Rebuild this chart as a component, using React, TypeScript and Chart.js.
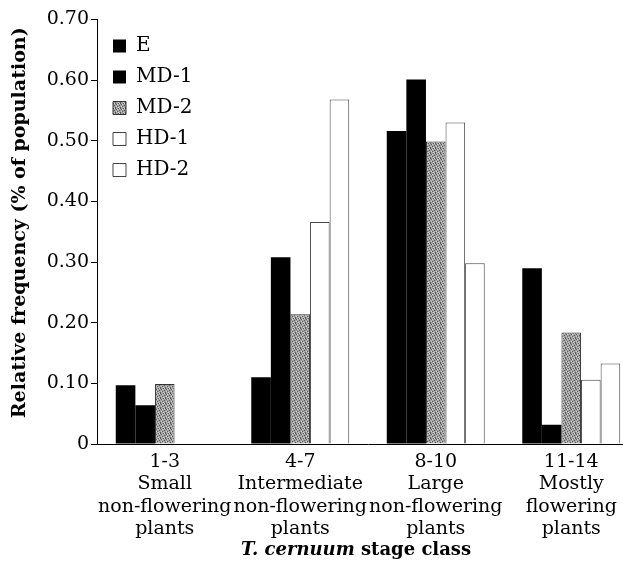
import React, { useEffect, useRef } from 'react';
import { Chart, registerables } from 'chart.js';

Chart.register(...registerables);

const categories: string[][] = [
  ['1-3', 'Small', 'non-flowering', 'plants'],
  ['4-7', 'Intermediate', 'non-flowering', 'plants'],
  ['8-10', 'Large', 'non-flowering', 'plants'],
  ['11-14', 'Mostly', 'flowering', 'plants'],
];
const seriesNames = ['E', 'MD-1', 'MD-2', 'HD-1', 'HD-2'];
const valuesE = [0.097, 0.11, 0.516, 0.29];
const valuesMD1 = [0.064, 0.308, 0.601, 0.032];
const valuesMD2 = [0.099, 0.214, 0.499, 0.184];
const valuesHD1 = [null, 0.366, 0.53, 0.106];
const valuesHD2 = [null, 0.568, 0.298, 0.133];
const yTickLabels = ['0', '0.10', '0.20', '0.30', '0.40', '0.50', '0.60', '0.70'];
const xTitleItalic = 'T. cernuum';
const xTitleRest = ' stage class';
const yTitle = 'Relative frequency (% of population)';

const FONT = "'DejaVu Serif', 'Liberation Serif', serif";

function makeStipple(): CanvasPattern | string {
  const pc = document.createElement('canvas');
  pc.width = 5;
  pc.height = 5;
  const g = pc.getContext('2d');
  if (!g) return '#909090';
  g.fillStyle = '#a2a2a2';
  g.fillRect(0, 0, 5, 5);
  g.fillStyle = '#5c5c5c';
  [[0, 0], [3, 1], [1, 2], [4, 3], [2, 4], [2, 0]].forEach(([x, y]) => g.fillRect(x, y, 1, 1));
  g.fillStyle = '#cfcfcf';
  [[1, 0], [4, 1], [3, 3], [0, 4]].forEach(([x, y]) => g.fillRect(x, y, 1, 1));
  return g.createPattern(pc, 'repeat') || '#909090';
}

const customPlugin = {
  id: 'customPlugin',
  afterLayout(chart: any) {
    const lg = chart.legend;
    if (lg) {
      const h = lg.bottom - lg.top;
      lg.left = chart.chartArea.left + 5;
      lg.top = 17;
      lg.bottom = lg.top + h;
    }
  },
  afterDraw(chart: any) {
    const ctx = chart.ctx;
    ctx.save();
    ctx.fillStyle = '#000';
    ctx.textBaseline = 'middle';
    ctx.textAlign = 'left';
    const italicFont = `italic bold 18px ${FONT}`;
    const boldFont = `bold 18px ${FONT}`;
    ctx.font = italicFont;
    const w1 = ctx.measureText(xTitleItalic).width;
    ctx.font = boldFont;
    const w2 = ctx.measureText(xTitleRest).width;
    const cx = (chart.chartArea.left + 607) / 2;
    const y = chart.height - 15;
    const x0 = cx - (w1 + w2) / 2;
    ctx.font = italicFont;
    ctx.fillText(xTitleItalic, x0, y);
    ctx.font = boldFont;
    ctx.fillText(xTitleRest, x0 + w1, y);
    ctx.restore();

    ctx.save();
    ctx.fillStyle = '#000';
    ctx.font = `bold 19px ${FONT}`;
    ctx.textAlign = 'center';
    ctx.textBaseline = 'middle';
    ctx.translate(12, (chart.chartArea.top + chart.chartArea.bottom) / 2 - 9);
    ctx.rotate(-Math.PI / 2);
    ctx.fillText(yTitle, 0, 0);
    ctx.restore();
  },
};

export default function App() {
  const canvasRef = useRef<HTMLCanvasElement | null>(null);

  useEffect(() => {
    if (!canvasRef.current) return;
    const stipple = makeStipple();
    const chart = new Chart(canvasRef.current, {
      type: 'bar',
      data: {
        labels: categories,
        datasets: [
          { label: seriesNames[0], data: valuesE, backgroundColor: '#000', borderColor: '#000', borderWidth: 0 },
          { label: seriesNames[1], data: valuesMD1, backgroundColor: '#000', borderColor: '#000', borderWidth: 0 },
          { label: seriesNames[2], data: valuesMD2, backgroundColor: stipple as any, borderColor: '#333', borderWidth: 1 },
          { label: seriesNames[3], data: valuesHD1 as any, backgroundColor: '#fff', borderColor: '#444', borderWidth: 1 },
          { label: seriesNames[4], data: valuesHD2 as any, backgroundColor: '#fff', borderColor: '#444', borderWidth: 1 },
        ],
      },
      options: {
        animation: false,
        responsive: true,
        maintainAspectRatio: false,
        layout: { padding: { top: 10, right: 0, bottom: 18, left: 0 } },
        datasets: {
          bar: { categoryPercentage: 0.723, barPercentage: 1 },
        },
        plugins: {
          legend: {
            position: 'chartArea' as any,
            align: 'start',
            labels: {
              boxWidth: 13,
              boxHeight: 13,
              padding: 11,
              color: '#000',
              font: { family: FONT, size: 20 },
            },
          },
          tooltip: { enabled: false },
        },
        scales: {
          x: {
            grid: { display: false, drawTicks: false },
            border: { display: true, color: '#000', width: 1 },
            ticks: {
              color: '#000',
              padding: 7,
              maxRotation: 0,
              autoSkip: false,
              font: { family: FONT, size: 19, lineHeight: 1.17 },
            },
          },
          y: {
            min: 0,
            max: 0.7,
            afterFit(scale: any) {
              scale.width = 89;
            },
            grid: {
              display: true,
              drawOnChartArea: false,
              drawTicks: true,
              tickLength: 6,
              color: '#000',
            },
            border: { display: true, color: '#000', width: 1 },
            ticks: {
              stepSize: 0.1,
              color: '#000',
              padding: 2,
              font: { family: FONT, size: 19, lineHeight: 1.0 },
              callback: (_v: any, i: number) => yTickLabels[i],
            },
            title: { display: false },
          },
        },
      },
      plugins: [customPlugin],
    });
    return () => chart.destroy();
  }, []);

  return (
    <div style={{ position: 'fixed', left: 8, top: 8, width: 615, height: 557, overflow: 'hidden' }}>
      <div style={{ width: 631, height: 557, position: 'relative' }}>
        <canvas ref={canvasRef} />
      </div>
    </div>
  );
}
